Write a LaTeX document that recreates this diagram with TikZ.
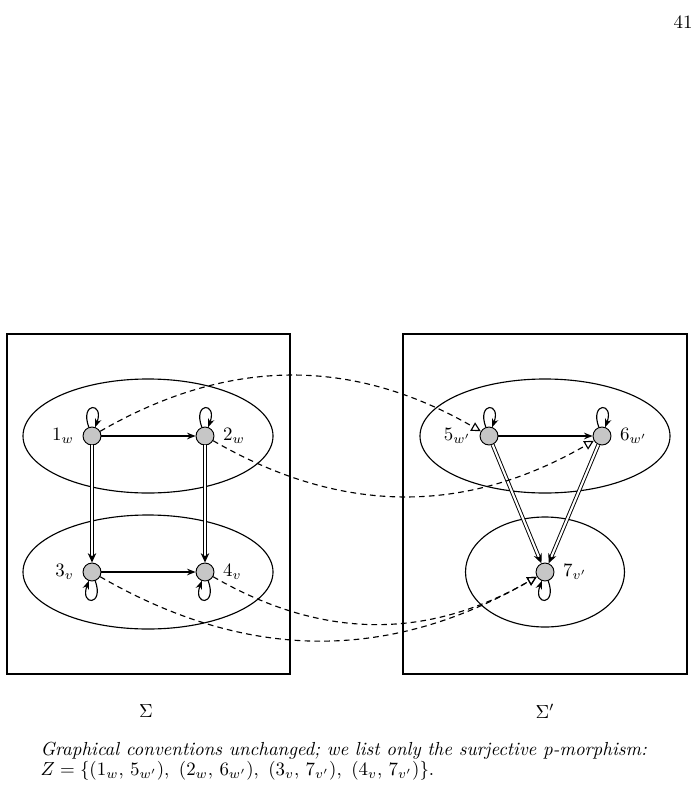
\documentclass[tikz,border=0pt]{standalone}
\usetikzlibrary{arrows.meta}
\begin{document}
\begin{tikzpicture}[x=0.529pt, y=-0.529pt, line width=0.6pt]
    % Styles
    \tikzstyle{world} = [circle, draw, fill=gray!45, minimum size=9.5pt, inner sep=0pt, line width=0.5pt]
    \tikzstyle{arrow} = [-{Stealth[length=4.5pt, width=3.5pt]}]
    \tikzstyle{dblarrow} = [double, double distance=1.1pt, line width=0.5pt, -{Stealth[length=5pt, width=4.5pt]}]
    \tikzstyle{pmorph} = [dash pattern=on 3pt off 2.2pt, -{Triangle[open, length=5pt, width=5pt]}]
    \tikzstyle{selfloop} = [-{Stealth[length=4.5pt, width=3.5pt]}, min distance=12pt]

    \useasboundingbox (0,0) rectangle (696,791);

    % page number
    \node (pagenum) at (683,22) {41};

    % === LEFT MODEL: Sigma ===
    \draw (7,334) rectangle (290,674);
    \draw (148,436) ellipse [x radius=125, y radius=57];
    \draw (148,572) ellipse [x radius=125, y radius=57];

    \node [world, label={[label distance=1pt]left:$1_w$}] (w1) at (92,436) {};
    \node [world, label={[label distance=1pt]right:$2_w$}] (w2) at (205,436) {};
    \node [world, label={[label distance=1pt]left:$3_v$}] (v3) at (92,572) {};
    \node [world, label={[label distance=1pt]right:$4_v$}] (v4) at (205,572) {};

    % === RIGHT MODEL: Sigma' ===
    \draw (403,334) rectangle (687,674);
    \draw (545,436) ellipse [x radius=125, y radius=57];
    \draw (545,572) ellipse [x radius=79.5, y radius=55];

    \node [world, label={[label distance=1pt]left:$5_{w'}$}] (w5) at (489,436) {};
    \node [world, label={[label distance=1pt]right:$6_{w'}$}] (w6) at (602,436) {};
    \node [world, label={[label distance=1pt]right:$7_{v'}$}] (v7) at (545,572) {};

    % === ARROWS: Sigma ===
    \draw [arrow] (w1) -- (w2);
    \draw [arrow] (v3) -- (v4);
    \draw [dblarrow] (w1) -- (v3);
    \draw [dblarrow] (w2) -- (v4);
    \draw [selfloop] (w1) to [out=110, in=70, loop] (w1);
    \draw [selfloop] (w2) to [out=110, in=70, loop] (w2);
    \draw [selfloop] (v3) to [out=-70, in=-110, loop] (v3);
    \draw [selfloop] (v4) to [out=-70, in=-110, loop] (v4);

    % === ARROWS: Sigma' ===
    \draw [arrow] (w5) -- (w6);
    \draw [dblarrow] (w5) -- (v7);
    \draw [dblarrow] (w6) -- (v7);
    \draw [selfloop] (w5) to [out=110, in=70, loop] (w5);
    \draw [selfloop] (w6) to [out=110, in=70, loop] (w6);
    \draw [selfloop] (v7) to [out=-70, in=-110, loop] (v7);

    % === P-MORPHISM ===
    \draw [pmorph] (w1) to [bend left=30] (w5);
    \draw [pmorph] (w2) to [bend right=30] (w6);
    \draw [pmorph] (v3) to [bend right=30] (v7);
    \draw [pmorph] (v4) to [bend right=30] (v7);

    % === Labels ===
    \node (sigma) at (146,711) {$\Sigma$};
    \node (sigmap) at (545,711) {$\Sigma'$};
    \node [anchor=north west, inner sep=0pt, align=left] (caption) at (40,742)
        {\itshape Graphical conventions unchanged; we list only the surjective p-morphism:\\[-1.5pt]
         $Z = \{(1_w,\, 5_{w'}),\ (2_w,\, 6_{w'}),\ (3_v,\, 7_{v'}),\ (4_v,\, 7_{v'})\}$.};
\end{tikzpicture}
\end{document}
